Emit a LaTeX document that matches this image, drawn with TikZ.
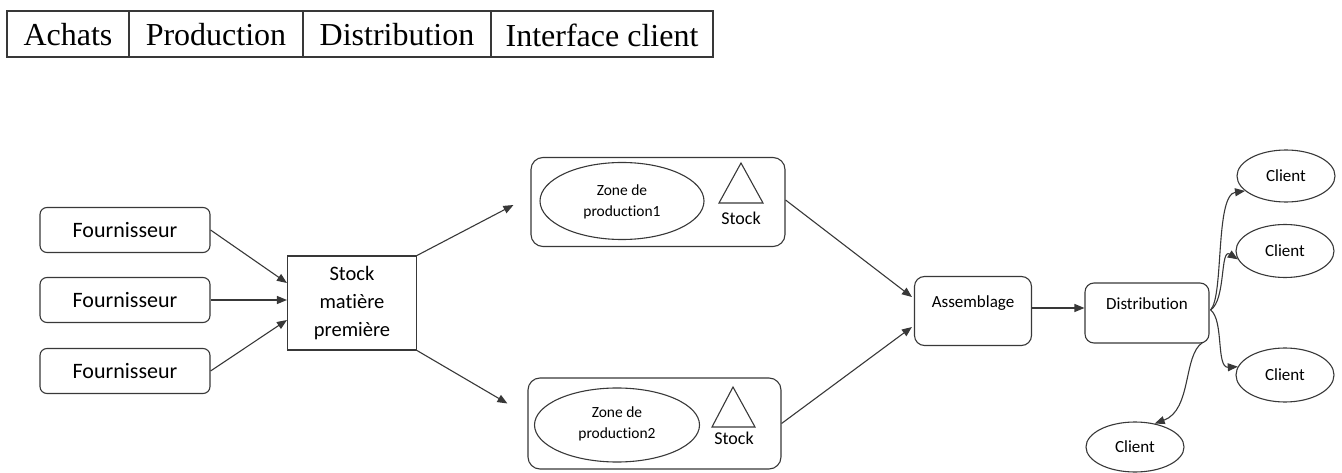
\documentclass[tikz,border=0pt]{standalone}
\usepackage{fontspec}
\setmainfont{Carlito}[Ligatures=NoCommon]
\newfontfamily\tablefont{Liberation Serif}
\usetikzlibrary{arrows.meta,shapes.geometric}

\tikzset{
  ln/.style={draw=black!78, line width=1.1pt},
  arr/.style={ln, -{Triangle[length=10pt,width=8pt]}},
  rbox/.style={ln, rounded corners=7pt, inner sep=0pt},
  sbox/.style={ln, inner sep=0pt},
  ell/.style={ln, ellipse, inner sep=0pt},
  txt/.style={inner sep=0pt, align=center},
  head/.style={inner sep=0pt, font=\tablefont\fontsize{32}{34}\selectfont}
}

\begin{document}
\begin{tikzpicture}[x=1pt,y=-1pt]
\useasboundingbox (0,0) rectangle (1342,473);

% header table
\draw[ln] (7,11) rectangle (713,57);
\foreach \xx in {129,303,491} \draw[ln] (\xx,11) -- (\xx,57);
\node[head] (hA) at (68,35) {Achats};
\node[head] (hP) at (216,35) {Production};
\node[head] (hD) at (397,35) {Distribution};
\node[head] (hI) at (602,35) {Interface client};

% suppliers
\foreach \i/\yy in {1/230,2/300,3/371}
  \node[rbox, minimum width=170pt, minimum height=45pt,
        font=\fontsize{22}{25}\selectfont] (f\i) at (125,\yy) {Fournisseur};

% raw material stock
\node[sbox, minimum width=129pt, minimum height=94pt] (stock) at (352,303) {};
\node[txt, font=\fontsize{20.5}{28}\selectfont] (stockt) at (352,303) {Stock\\matière\\première};

% production zone 1
\node[rbox, rounded corners=12pt, minimum width=254pt, minimum height=89pt] (z1) at (658,202) {};
\node[ell, minimum width=164pt, minimum height=77pt] (e1) at (622,201) {};
\node[txt, font=\fontsize{15.5}{21}\selectfont] (e1t) at (622,202) {Zone de\\production1};
\coordinate (t1a) at (741,163);
\coordinate (t1b) at (719,203);
\coordinate (t1c) at (763,203);
\draw[ln] (t1a) -- (t1b) -- (t1c) -- cycle;
\node[txt, font=\fontsize{18}{20}\selectfont] (s1) at (741,218) {Stock};

% production zone 2
\node[rbox, rounded corners=12pt, minimum width=253pt, minimum height=91pt] (z2) at (654.5,423.5) {};
\node[ell, minimum width=165pt, minimum height=74pt] (e2) at (617,425) {};
\node[txt, font=\fontsize{15.5}{21}\selectfont] (e2t) at (617,424) {Zone de\\production2};
\coordinate (t2a) at (733,387);
\coordinate (t2b) at (712,427);
\coordinate (t2c) at (755,427);
\draw[ln] (t2a) -- (t2b) -- (t2c) -- cycle;
\node[txt, font=\fontsize{18}{20}\selectfont] (s2) at (734,438) {Stock};

% assembly and distribution
\node[rbox, rounded corners=10pt, minimum width=117pt, minimum height=69pt] (asm) at (973,311) {};
\node[txt, font=\fontsize{17}{20}\selectfont] (asmt) at (973,303) {Assemblage};
\node[rbox, rounded corners=9pt, minimum width=124pt, minimum height=60pt] (dist) at (1147,313) {};
\node[txt, font=\fontsize{17}{20}\selectfont] (distt) at (1147,304) {Distribution};

% customers
\node[ell, minimum width=98pt, minimum height=52pt, font=\fontsize{17}{20}\selectfont] (c1) at (1286,176) {Client};
\node[ell, minimum width=98pt, minimum height=53pt, font=\fontsize{17}{20}\selectfont] (c2) at (1285,251) {Client};
\node[ell, minimum width=98pt, minimum height=54pt, font=\fontsize{17}{20}\selectfont] (c3) at (1285,375) {Client};
\node[ell, minimum width=98pt, minimum height=50pt, font=\fontsize{17}{20}\selectfont] (c4) at (1135,447) {Client};

% flows (yshift counts upwards on the page)
\draw[arr] (f1.east) -- ([yshift=20pt]stock.west);
\draw[arr] (f2.east) -- ([yshift=3pt]stock.west);
\draw[arr] (f3.east) -- ([yshift=-17pt]stock.west);
\draw[arr] (stock.north east) -- ([xshift=-17pt,yshift=-3pt]z1.west);
\draw[arr] (stock.south east) -- ([xshift=-20pt,yshift=20pt]z2.west);
\draw[arr] ([yshift=2pt]z1.east) -- ([xshift=-2pt,yshift=14pt]asm.west);
\draw[arr] ([yshift=0pt]z2.east) -- ([xshift=-2pt,yshift=-16pt]asm.west);
\draw[arr] ([yshift=3pt]asm.east) -- ([yshift=5pt]dist.west);

% customer links, all leaving one point of the distribution box
\coordinate (d1) at ([xshift=1pt,yshift=3pt]dist.east);
\coordinate (d3) at ([xshift=-7pt,yshift=1pt]dist.south east);
\draw[arr] (d1) .. controls (1224,296) and (1215,195) .. (c1.200);
\draw[arr] (d1) .. controls (1226,300) and (1220,248) .. (c2.190);
\draw[arr] (d1) .. controls (1224,320) and (1216,368) .. (c3.170);
\draw[arr] (d3) .. controls (1183,355) and (1192,410) .. (c4.50);
\end{tikzpicture}
\end{document}
